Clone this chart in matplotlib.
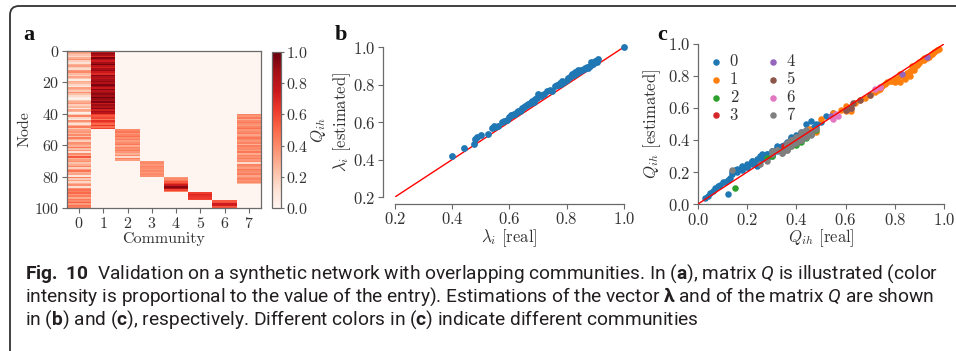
import numpy as np
import matplotlib.pyplot as plt
import matplotlib.transforms as mtransforms
from matplotlib.patches import FancyBboxPatch

# ---------------- data ----------------
n_nodes = 100
communities = [0, 1, 2, 3, 4, 5, 6, 7]
node_ticks = [0, 20, 40, 60, 80, 100]

# real Q values per community (row start, values) and their estimates
q0_rows = 0
q0_real = [0.35, 0.30, 0.22, 0.15, 0.30, 0.38, 0.18, 0.12, 0.28, 0.33,
           0.20, 0.14, 0.36, 0.40, 0.25, 0.18, 0.32, 0.22, 0.05, 0.30,
           0.26, 0.16, 0.08, 0.34, 0.28, 0.20, 0.38, 0.24, 0.14, 0.06,
           0.03, 0.22, 0.30, 0.36, 0.18, 0.26, 0.10, 0.32, 0.28, 0.04,
           0.20, 0.42, 0.16, 0.07, 0.38, 0.24, 0.12, 0.30, 0.44, 0.20,
           0.32, 0.36, 0.26, 0.40, 0.22, 0.44, 0.30, 0.18, 0.38, 0.34,
           0.28, 0.46, 0.24, 0.36, 0.11, 0.40, 0.30, 0.55, 0.26, 0.34,
           0.38, 0.22, 0.30, 0.42, 0.18, 0.36, 0.47, 0.28, 0.32, 0.09,
           0.44, 0.20, 0.34, 0.16, 0.28, 0.38, 0.13, 0.40, 0.48, 0.42,
           0.50, 0.36, 0.44, 0.30, 0.46, 0.40, 0.52, 0.34, 0.48, 0.44]
q0_est = [0.37, 0.33, 0.27, 0.21, 0.30, 0.41, 0.23, 0.15, 0.31, 0.35,
          0.25, 0.19, 0.38, 0.42, 0.30, 0.22, 0.34, 0.27, 0.07, 0.32,
          0.30, 0.22, 0.11, 0.36, 0.30, 0.24, 0.42, 0.24, 0.20, 0.08,
          0.04, 0.26, 0.33, 0.37, 0.22, 0.31, 0.14, 0.36, 0.30, 0.05,
          0.24, 0.45, 0.21, 0.10, 0.40, 0.28, 0.06, 0.32, 0.50, 0.23,
          0.35, 0.39, 0.28, 0.41, 0.26, 0.46, 0.31, 0.24, 0.40, 0.36,
          0.31, 0.52, 0.27, 0.38, 0.14, 0.43, 0.33, 0.57, 0.29, 0.35,
          0.40, 0.25, 0.31, 0.44, 0.21, 0.37, 0.48, 0.30, 0.33, 0.12,
          0.45, 0.23, 0.35, 0.20, 0.29, 0.39, 0.16, 0.41, 0.50, 0.43,
          0.51, 0.37, 0.44, 0.31, 0.47, 0.41, 0.55, 0.35, 0.48, 0.45]

q1_rows = 0
q1_real = [0.78, 0.92, 0.85, 0.70, 0.95, 0.82, 0.74, 0.88, 0.97, 0.80,
           0.72, 0.86, 0.90, 0.76, 0.68, 0.93, 0.84, 0.79, 0.87, 0.91,
           0.83, 0.96, 0.89, 0.75, 0.94, 0.81, 0.88, 0.92, 0.86, 0.98,
           0.90, 0.84, 0.95, 0.77, 0.89, 0.82, 0.93, 0.73, 0.87, 0.80,
           0.62, 0.55, 0.60, 0.45, 0.66, 0.58, 0.50, 0.64, 0.48, 0.60]
q1_est = [0.77, 0.90, 0.82, 0.68, 0.94, 0.76, 0.72, 0.84, 0.96, 0.78,
          0.70, 0.83, 0.89, 0.75, 0.66, 0.91, 0.79, 0.77, 0.86, 0.90,
          0.80, 0.95, 0.87, 0.74, 0.92, 0.79, 0.85, 0.91, 0.80, 0.97,
          0.88, 0.78, 0.94, 0.76, 0.87, 0.81, 0.92, 0.71, 0.84, 0.76,
          0.58, 0.57, 0.61, 0.47, 0.65, 0.59, 0.53, 0.63, 0.45, 0.58]

q2_rows = 50
q2_real = [0.40, 0.46, 0.36, 0.42, 0.48, 0.38, 0.44, 0.34, 0.40, 0.46,
           0.30, 0.42, 0.38, 0.44, 0.36, 0.28, 0.40, 0.15, 0.42, 0.34]
q2_est = [0.38, 0.44, 0.35, 0.39, 0.46, 0.37, 0.42, 0.33, 0.38, 0.44,
          0.30, 0.40, 0.36, 0.41, 0.35, 0.29, 0.37, 0.10, 0.40, 0.33]

q3_rows = 70
q3_real = [0.38, 0.40, 0.36, 0.42, 0.39, 0.37, 0.41, 0.35, 0.40, 0.38]
q3_est = [0.39, 0.40, 0.37, 0.41, 0.40, 0.38, 0.40, 0.36, 0.41, 0.38]

q4_rows = 80
q4_real = [0.36, 0.40, 0.45, 0.54, 0.62, 0.74, 0.93, 0.83, 0.60, 0.42]
q4_est = [0.36, 0.41, 0.44, 0.55, 0.60, 0.73, 0.92, 0.81, 0.59, 0.42]

q5_rows = 90
q5_real = [0.62, 0.70, 0.66, 0.63, 0.60]
q5_est = [0.60, 0.68, 0.65, 0.63, 0.59]

q6_rows = 95
q6_real = [0.55, 0.57, 0.74, 0.72, 0.56]
q6_est = [0.53, 0.55, 0.73, 0.72, 0.56]

q7_rows = 40
q7_real = [0.42, 0.36, 0.44, 0.30, 0.40, 0.46, 0.38, 0.34, 0.42, 0.48,
           0.36, 0.40, 0.44, 0.32, 0.38, 0.46, 0.40, 0.36, 0.42, 0.28,
           0.44, 0.38, 0.40, 0.34, 0.46, 0.30, 0.42, 0.38, 0.44, 0.36,
           0.40, 0.14, 0.42, 0.38, 0.34, 0.46, 0.40, 0.36, 0.44, 0.32,
           0.38, 0.42, 0.36, 0.40, 0.25]
q7_est = [0.45, 0.37, 0.46, 0.33, 0.41, 0.44, 0.40, 0.32, 0.44, 0.47,
          0.34, 0.42, 0.45, 0.34, 0.39, 0.43, 0.42, 0.34, 0.40, 0.27,
          0.43, 0.36, 0.39, 0.32, 0.45, 0.31, 0.41, 0.37, 0.42, 0.35,
          0.38, 0.21, 0.41, 0.40, 0.33, 0.44, 0.39, 0.37, 0.43, 0.34,
          0.40, 0.40, 0.38, 0.41, 0.25]

lam_real = [0.40, 0.44, 0.475, 0.48, 0.485, 0.50, 0.525, 0.54, 0.545, 0.55,
            0.56, 0.575, 0.58, 0.59, 0.60, 0.605, 0.61, 0.615, 0.62, 0.625,
            0.63, 0.635, 0.64, 0.645, 0.65, 0.655, 0.66, 0.665, 0.67, 0.675,
            0.68, 0.685, 0.69, 0.695, 0.70, 0.705, 0.71, 0.72, 0.73, 0.74,
            0.75, 0.76, 0.765, 0.77, 0.775, 0.78, 0.785, 0.79, 0.80, 0.805,
            0.81, 0.815, 0.82, 0.825, 0.83, 0.835, 0.84, 0.845, 0.85, 0.855,
            0.86, 0.865, 0.87, 0.875, 0.88, 0.885, 0.89, 0.90, 0.905, 0.91, 1.00]
lam_est = [0.42, 0.46, 0.485, 0.51, 0.52, 0.53, 0.535, 0.57, 0.58, 0.575,
           0.58, 0.60, 0.605, 0.61, 0.625, 0.635, 0.635, 0.645, 0.645, 0.655,
           0.66, 0.66, 0.665, 0.675, 0.68, 0.685, 0.69, 0.695, 0.70, 0.70,
           0.71, 0.705, 0.725, 0.73, 0.75, 0.745, 0.74, 0.75, 0.765, 0.77,
           0.765, 0.79, 0.80, 0.80, 0.81, 0.805, 0.82, 0.815, 0.825, 0.835,
           0.84, 0.845, 0.855, 0.85, 0.865, 0.86, 0.875, 0.87, 0.88, 0.875,
           0.885, 0.89, 0.895, 0.89, 0.90, 0.92, 0.91, 0.925, 0.92, 0.935, 1.00]

row_starts = [q0_rows, q1_rows, q2_rows, q3_rows, q4_rows, q5_rows, q6_rows, q7_rows]
q_real = [q0_real, q1_real, q2_real, q3_real, q4_real, q5_real, q6_real, q7_real]
q_est = [q0_est, q1_est, q2_est, q3_est, q4_est, q5_est, q6_est, q7_est]

Q = np.zeros((n_nodes, len(communities)))
for h, (r0, vals) in enumerate(zip(row_starts, q_real)):
    Q[r0:r0 + len(vals), h] = vals

# ---------------- style ----------------
cap_font = 'Roboto'
plt.rcParams['font.family'] = 'serif'
plt.rcParams['font.serif'] = ['cmr10']
plt.rcParams['mathtext.fontset'] = 'cm'
plt.rcParams['axes.formatter.use_mathtext'] = True
plt.rcParams['mathtext.rm'] = cap_font
plt.rcParams['mathtext.it'] = cap_font + ':italic'
plt.rcParams['mathtext.bf'] = cap_font + ':bold'

spine_c = '#6a6a6a'
txt_c = '#333333'
W, H = 956, 351

fig = plt.figure(figsize=(W / 100, H / 100), dpi=100)


def px_axes(x0, y0, x1, y1):
    return fig.add_axes([x0 / W, 1 - y1 / H, (x1 - x0) / W, (y1 - y0) / H])


def style_ax(ax, fs):
    for s in ax.spines.values():
        s.set_color(spine_c)
        s.set_linewidth(0.9)
    ax.tick_params(direction='out', length=3.5, width=0.8, color=spine_c,
                   labelcolor=txt_c, labelsize=fs, pad=2)


# ---------------- panel a ----------------
ax_a = px_axes(67, 51, 261, 208)
im = ax_a.imshow(Q, cmap='Reds', vmin=0, vmax=1, aspect='auto',
                 interpolation='nearest', extent=(-0.5, 7.5, 100, 0))
ax_a.set_xticks(communities)
ax_a.set_yticks(node_ticks)
ax_a.set_xlabel('Community', fontsize=11.5, color=txt_c, labelpad=1)
ax_a.set_ylabel('Node', fontsize=11.5, color=txt_c, labelpad=2)
style_ax(ax_a, 11.5)

cax = px_axes(272, 52, 281, 208)
cb = fig.colorbar(im, cax=cax)
cb.set_ticks([0.0, 0.2, 0.4, 0.6, 0.8, 1.0])
cb.outline.set_edgecolor(spine_c)
cb.outline.set_linewidth(0.9)
cax.tick_params(direction='out', length=2.5, width=0.8, color=spine_c,
                labelcolor=txt_c, labelsize=11.5, pad=1)
cb.set_label(r'$Q_{ih}$', fontsize=12, color=txt_c)
cax.yaxis.set_label_coords((309 - 272) / 9, 0.5)

# ---------------- panel b ----------------
ax_b = px_axes(395, 47, 624, 197)
ax_b.plot([0.2, 1.0], [0.2, 1.0], color='red', lw=1.0, zorder=2)
ax_b.scatter(lam_real, lam_est, s=24, color='#1f77b4', zorder=3,
             clip_on=False, linewidths=0)
ax_b.set_xlim(0.2, 1.0)
ax_b.set_ylim(0.2, 1.0)
ax_b.set_xticks([0.2, 0.4, 0.6, 0.8, 1.0])
ax_b.set_yticks([0.2, 0.4, 0.6, 0.8, 1.0])
ax_b.spines['top'].set_visible(False)
ax_b.spines['right'].set_visible(False)
ax_b.spines['left'].set_position(('outward', 8.4))
ax_b.spines['bottom'].set_position(('outward', 4.8))
ax_b.set_xlabel(r'$\lambda_i$ [real]', fontsize=12, color=txt_c, labelpad=0)
ax_b.set_ylabel(r'$\lambda_i$ [estimated]', fontsize=12, color=txt_c)
ax_b.yaxis.set_label_coords((353 - 395) / 229, 0.5)
style_ax(ax_b, 12)

# ---------------- panel c ----------------
ax_c = px_axes(698, 44, 944, 204)
ax_c.plot([0.0, 1.0], [0.0, 1.0], color='red', lw=1.0, zorder=4)
colors = plt.get_cmap('tab10').colors
for h in communities:
    ax_c.scatter(q_real[h], q_est[h], s=22, color=colors[h], label=str(h),
                 zorder=3, clip_on=False, linewidths=0)
ax_c.set_xlim(0.0, 1.0)
ax_c.set_ylim(0.0, 1.0)
ax_c.set_xticks([0.0, 0.2, 0.4, 0.6, 0.8, 1.0])
ax_c.set_yticks([0.0, 0.2, 0.4, 0.6, 0.8, 1.0])
ax_c.spines['top'].set_visible(False)
ax_c.spines['right'].set_visible(False)
ax_c.set_xlabel(r'$Q_{ih}$ [real]', fontsize=12, color=txt_c, labelpad=0)
ax_c.set_ylabel(r'$Q_{ih}$ [estimated]', fontsize=12, color=txt_c)
ax_c.yaxis.set_label_coords((663 - 698) / 246, 0.5)
style_ax(ax_c, 12)
leg = ax_c.legend(ncol=2, loc='upper left', bbox_to_anchor=(0.0, 1.0),
                  frameon=False, fontsize=12, handletextpad=0.3,
                  columnspacing=1.6, labelspacing=0.15, handlelength=1.0,
                  borderaxespad=0.2)
for t in leg.get_texts():
    t.set_color(txt_c)

# ---------------- panel letters ----------------
for x, lab in [(23, 'a'), (335, 'b'), (657, 'c')]:
    fig.text(x / W, 1 - 40 / H, lab, fontsize=16, fontweight='bold',
             family='Liberation Serif', color='#111111')

# ---------------- frame & caption ----------------
ident = mtransforms.IdentityTransform()
box = FancyBboxPatch((10, -60), 1100, H - 6 + 60,
                     boxstyle='round,pad=0,rounding_size=9',
                     fill=False, edgecolor='#333333', lw=1.3, transform=ident)
fig.add_artist(box)

cap_lines = [
    r'$\mathbf{Fig.\ 10}$  Validation on a synthetic network with overlapping communities. '
    r'In ($\mathbf{a}$), matrix $\mathit{Q}$ is illustrated (color',
    r'intensity is proportional to the value of the entry). Estimations of the vector '
    r'$\mathbf{\lambda}$ and of the matrix $\mathit{Q}$ are shown',
    r'in ($\mathbf{b}$) and ($\mathbf{c}$), respectively. Different colors in '
    r'($\mathbf{c}$) indicate different communities',
]
cap_base = [279, 302, 325]
cap_texts = []
for s, yb in zip(cap_lines, cap_base):
    t = fig.text(25, H - yb, s, transform=ident, fontsize=12.5,
                 family=[cap_font, 'DejaVu Sans'],
                 math_fontfamily='custom', color='#231f20', va='baseline')
    cap_texts.append(t)

renderer = fig.canvas.get_renderer()
w1 = cap_texts[0].get_window_extent(renderer=renderer).width
scale = (937 - 25) / w1
for t in cap_texts:
    t.set_fontsize(12.5 * scale)

fig.savefig('out.png', dpi=100)
